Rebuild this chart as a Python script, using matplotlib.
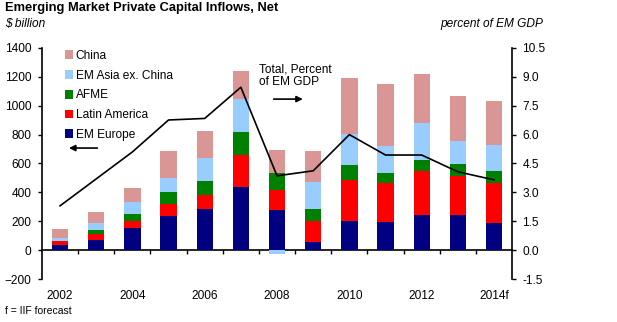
import matplotlib
matplotlib.use("Agg")
import matplotlib.pyplot as plt
from matplotlib.patches import Patch
import numpy as np

plt.rcParams['font.family'] = ['Liberation Sans', 'DejaVu Sans']

years = [2002, 2003, 2004, 2005, 2006, 2007, 2008, 2009, 2010, 2011, 2012, 2013, 2014]
year_labels = ['2002', '2004', '2006', '2008', '2010', '2012', '2014f']
series_names = ['EM Europe', 'Latin America', 'AFME', 'EM Asia ex. China', 'China']
em_europe = [37, 72, 155, 236, 282, 437, 275, 55, 203, 192, 243, 245, 185]
latin_america = [25, 43, 46, 85, 101, 221, 139, 148, 284, 270, 307, 268, 282]
afme = [4, 24, 48, 79, 95, 162, 122, 79, 100, 69, 74, 83, 83]
em_asia_ex_china = [15, 50, 81, 101, 160, 226, -30, 187, 215, 190, 258, 159, 180]
china = [65, 74, 100, 187, 187, 197, 157, 217, 388, 427, 338, 312, 303]
pct_em_gdp = [2.3, 3.7, 5.1, 6.76, 6.84, 8.46, 3.86, 4.12, 6.0, 4.94, 4.94, 4.07, 3.65]

colors = ['#000080', '#FF0000', '#008000', '#99CCFF', '#D99694']

fig = plt.figure(figsize=(6.17, 3.22), dpi=100)
ax = fig.add_axes([0.068, 0.1335, 0.762, 0.7175])

x = np.array(years, dtype=float)
pos_base = np.zeros(len(years))
neg_base = np.zeros(len(years))
for vals, col in zip([em_europe, latin_america, afme, em_asia_ex_china, china], colors):
    v = np.array(vals, dtype=float)
    bottoms = np.where(v >= 0, pos_base, neg_base)
    ax.bar(x, v, bottom=bottoms, width=0.45, color=col, linewidth=0, zorder=2)
    pos_base = pos_base + np.where(v >= 0, v, 0)
    neg_base = neg_base + np.where(v < 0, v, 0)

ax.set_xlim(2001.5, 2014.5)
ax.set_ylim(-200, 1400)
ax.set_yticks(np.arange(-200, 1401, 200))
ax.set_xticks([2002, 2004, 2006, 2008, 2010, 2012, 2014])
ax.set_xticklabels(year_labels)
ax.tick_params(axis='x', length=0, pad=8, labelsize=8.6)
ax.tick_params(axis='y', direction='out', length=3, width=1, pad=4.5, labelsize=8.6)
for s in ['top', 'right', 'bottom']:
    ax.spines[s].set_visible(False)
ax.spines['left'].set_linewidth(1.2)

# zero axis with half-year ticks
sec = ax.secondary_xaxis(0.125)
sec.set_xticks(np.arange(2002.5, 2014, 1.0))
sec.tick_params(axis='x', direction='out', length=3, width=1, labelbottom=False, labeltop=False)
sec.spines['bottom'].set_linewidth(1.2)

ax2 = ax.twinx()
ax2.set_ylim(-1.5, 10.5)
ax2.set_yticks(np.arange(-1.5, 10.51, 1.5))
ax2.set_yticklabels([f"{v:.1f}" for v in np.arange(-1.5, 10.51, 1.5)])
ax2.tick_params(axis='y', direction='out', length=3, width=1, pad=4.5, labelsize=8.6)
for s in ['top', 'left', 'bottom']:
    ax2.spines[s].set_visible(False)
ax2.spines['right'].set_linewidth(1.2)
ax2.plot(years, pct_em_gdp, color='black', lw=1.2, zorder=5)

# legend
handles = [Patch(facecolor=c, edgecolor='none') for c in colors][::-1]
labels = series_names[::-1]
leg = ax2.legend(handles, labels, loc='upper left', bbox_to_anchor=(0.05, 0.992),
                 frameon=False, fontsize=8.6, handlelength=0.67, handleheight=0.75,
                 handletextpad=0.2, labelspacing=0.65, borderpad=0, borderaxespad=0)

# annotations
ax.annotate('', xy=(2002.17, 707), xytext=(2003.11, 707),
            arrowprops=dict(arrowstyle='-|>', color='black', lw=1.2, mutation_scale=9))
ax.annotate('', xy=(2008.79, 1046), xytext=(2007.83, 1046),
            arrowprops=dict(arrowstyle='-|>', color='black', lw=1.2, mutation_scale=9))
ax.text(2007.5, 1295, 'Total, Percent\nof EM GDP', fontsize=8.6, va='top', ha='left',
        linespacing=1.1)

fig.text(0.008, 1 - 2 / 322, 'Emerging Market Private Capital Inflows, Net',
         fontsize=9.3, fontweight='bold', va='top', ha='left')
fig.text(0.008, 1 - 24 / 322, '\\$ billion', fontsize=8.6, style='italic', va='center', ha='left')
fig.text(0.880, 1 - 24 / 322, 'percent of EM GDP', fontsize=8.6, style='italic',
         va='center', ha='right')
fig.text(0.008, 11 / 322, 'f = IIF forecast', fontsize=7.5, va='center', ha='left')

fig.savefig('out.png', dpi=100)
